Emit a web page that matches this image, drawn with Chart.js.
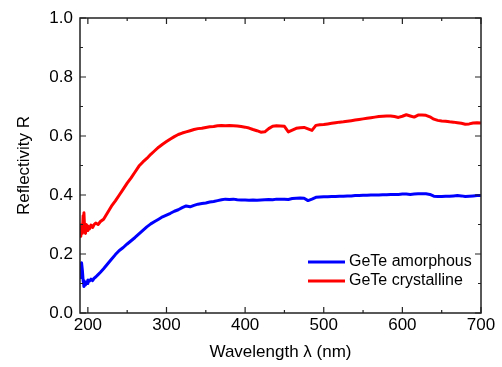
<!DOCTYPE html>
<html>
<head>
<meta charset="utf-8">
<script src="https://cdn.jsdelivr.net/npm/chart.js@4.4.1/dist/chart.umd.min.js"></script>
<style>
html,body{margin:0;padding:0;background:#fff;}
#wrap{width:502px;height:367px;position:relative;}
</style>
</head>
<body>
<div id="wrap"><canvas id="c" width="502" height="367"></canvas></div>
<script>
const wavelengths = [190,191,192,193,194,195,196,197,198,199,200,202,204,206,208,210,213,216,220,225,230,235,240,245,250,255,260,265,270,275,280,285,290,295,300,305,310,315,320,325,330,335,340,345,350,355,360,365,370,375,380,385,390,395,400,405,410,415,420,425,430,435,440,445,450,455,460,465,470,475,480,485,490,495,500,505,510,515,520,525,530,535,540,545,550,555,560,565,570,575,580,585,590,595,600,605,610,615,620,625,630,635,640,645,650,655,660,665,670,675,680,685,690,695,700];

const amorphous = [0.12,0.165,0.17,0.145,0.11,0.09,0.10,0.095,0.105,0.10,0.112,0.108,0.115,0.11,0.118,0.122,0.13,0.138,0.15,0.166,0.182,0.198,0.212,0.222,0.234,0.245,0.256,0.268,0.28,0.292,0.302,0.31,0.318,0.326,0.332,0.338,0.345,0.35,0.357,0.363,0.36,0.365,0.369,0.371,0.373,0.376,0.378,0.381,0.384,0.386,0.385,0.386,0.384,0.383,0.383,0.382,0.383,0.382,0.383,0.384,0.385,0.384,0.386,0.386,0.386,0.385,0.388,0.389,0.39,0.389,0.381,0.386,0.392,0.393,0.394,0.394,0.395,0.395,0.396,0.396,0.397,0.397,0.398,0.398,0.399,0.399,0.4,0.4,0.4,0.401,0.401,0.402,0.402,0.402,0.403,0.403,0.402,0.403,0.404,0.404,0.404,0.402,0.396,0.395,0.395,0.396,0.396,0.397,0.398,0.397,0.395,0.396,0.397,0.398,0.398];

const crystalline = [0.29,0.26,0.30,0.27,0.33,0.34,0.28,0.27,0.30,0.28,0.295,0.285,0.298,0.29,0.30,0.305,0.30,0.31,0.318,0.34,0.362,0.38,0.40,0.42,0.44,0.458,0.478,0.498,0.512,0.524,0.538,0.55,0.562,0.572,0.581,0.59,0.598,0.605,0.61,0.614,0.618,0.622,0.625,0.626,0.629,0.631,0.632,0.635,0.636,0.635,0.636,0.635,0.634,0.632,0.63,0.627,0.622,0.618,0.613,0.614,0.625,0.633,0.635,0.634,0.633,0.614,0.62,0.626,0.628,0.629,0.624,0.619,0.636,0.638,0.639,0.641,0.643,0.645,0.647,0.648,0.65,0.652,0.654,0.656,0.658,0.66,0.662,0.664,0.666,0.667,0.668,0.668,0.666,0.663,0.667,0.672,0.668,0.664,0.671,0.671,0.67,0.665,0.657,0.653,0.651,0.65,0.648,0.647,0.645,0.643,0.64,0.641,0.644,0.645,0.644];

const seriesNames = ['GeTe amorphous','GeTe crystalline'];
const seriesColors = ['#0000ff','#ff0000'];
const xTickValues = [200,300,400,500,600,700];
const yTickValues = [0.0,0.2,0.4,0.6,0.8,1.0];
const xTitle = 'Wavelength \u03bb (nm)';
const yTitle = 'Reflectivity R';

const FONT = 'Liberation Sans, Arial, sans-serif';

const toPoints = vals => wavelengths.map((w,i)=>({x:w,y:vals[i]}));

const framePlugin = {
  id:'frame',
  afterDatasetsDraw(chart){
    const {ctx, chartArea:a, scales:{x,y}} = chart;
    ctx.save();
    ctx.strokeStyle = '#222';
    ctx.lineWidth = 1.5;
    ctx.strokeRect(a.left, a.top, a.right-a.left, a.bottom-a.top);
    ctx.lineWidth = 1.2;
    ctx.beginPath();
    const major = 6, minor = 3;
    for (let i=0;i<xTickValues.length;i++){
      const v = xTickValues[i];
      const px = x.getPixelForValue(v);
      ctx.moveTo(px,a.bottom); ctx.lineTo(px,a.bottom-major);
      ctx.moveTo(px,a.top); ctx.lineTo(px,a.top+major);
      if (i<xTickValues.length-1){
        const mv = (v+xTickValues[i+1])/2;
        const mp = x.getPixelForValue(mv);
        ctx.moveTo(mp,a.bottom); ctx.lineTo(mp,a.bottom-minor);
        ctx.moveTo(mp,a.top); ctx.lineTo(mp,a.top+minor);
      }
    }
    for (let i=0;i<yTickValues.length;i++){
      const v = yTickValues[i];
      const py = y.getPixelForValue(v);
      ctx.moveTo(a.left,py); ctx.lineTo(a.left+major,py);
      ctx.moveTo(a.right,py); ctx.lineTo(a.right-major,py);
      if (i<yTickValues.length-1){
        const mv = (v+yTickValues[i+1])/2;
        const mp = y.getPixelForValue(mv);
        ctx.moveTo(a.left,mp); ctx.lineTo(a.left+minor,mp);
        ctx.moveTo(a.right,mp); ctx.lineTo(a.right-minor,mp);
      }
    }
    ctx.stroke();
    // legend
    ctx.font = '16px ' + FONT;
    ctx.textBaseline = 'middle';
    ctx.fillStyle = '#000';
    const rowY = [a.bottom-51, a.bottom-32];
    chart.data.datasets.forEach((ds,i)=>{
      ctx.strokeStyle = ds.borderColor;
      ctx.lineWidth = 3;
      ctx.beginPath();
      ctx.moveTo(a.right-173, rowY[i]);
      ctx.lineTo(a.right-136, rowY[i]);
      ctx.stroke();
      ctx.fillText(ds.label, a.right-132, rowY[i]);
    });
    ctx.restore();
  }
};

new Chart(document.getElementById('c'), {
  type:'line',
  data:{
    datasets:[
      {label:seriesNames[0], data:toPoints(amorphous), borderColor:seriesColors[0], backgroundColor:seriesColors[0], borderWidth:3, pointRadius:0, tension:0, fill:false, borderJoinStyle:'round'},
      {label:seriesNames[1], data:toPoints(crystalline), borderColor:seriesColors[1], backgroundColor:seriesColors[1], borderWidth:3, pointRadius:0, tension:0, fill:false, borderJoinStyle:'round'}
    ]
  },
  options:{
    responsive:false,
    animation:false,
    events:[],
    layout:{padding:{top:18,right:21,left:0,bottom:0}},
    plugins:{legend:{display:false}, tooltip:{enabled:false}},
    scales:{
      x:{
        type:'linear', min:190, max:700,
        afterBuildTicks(s){ s.ticks = xTickValues.map(v=>({value:v})); },
        afterFit(s){ s.height = 54; },
        grid:{display:false, drawTicks:false},
        border:{display:false},
        ticks:{color:'#000', font:{family:FONT, size:17}, padding:2, maxRotation:0, autoSkip:false,
          callback:v=>String(v)},
        title:{display:true, text:xTitle, color:'#000', font:{family:FONT, size:17}, padding:{top:4,bottom:4}}
      },
      y:{
        type:'linear', min:0, max:1,
        afterBuildTicks(s){ s.ticks = yTickValues.map(v=>({value:v})); },
        afterFit(s){ s.width = 80; },
        grid:{display:false, drawTicks:false},
        border:{display:false},
        ticks:{color:'#000', font:{family:FONT, size:17}, padding:7, autoSkip:false,
          callback:v=>Number(v).toFixed(1)},
        title:{display:true, text:yTitle, color:'#000', font:{family:FONT, size:17}, padding:{top:14,bottom:4}}
      }
    }
  },
  plugins:[framePlugin]
});
</script>
</body>
</html>
